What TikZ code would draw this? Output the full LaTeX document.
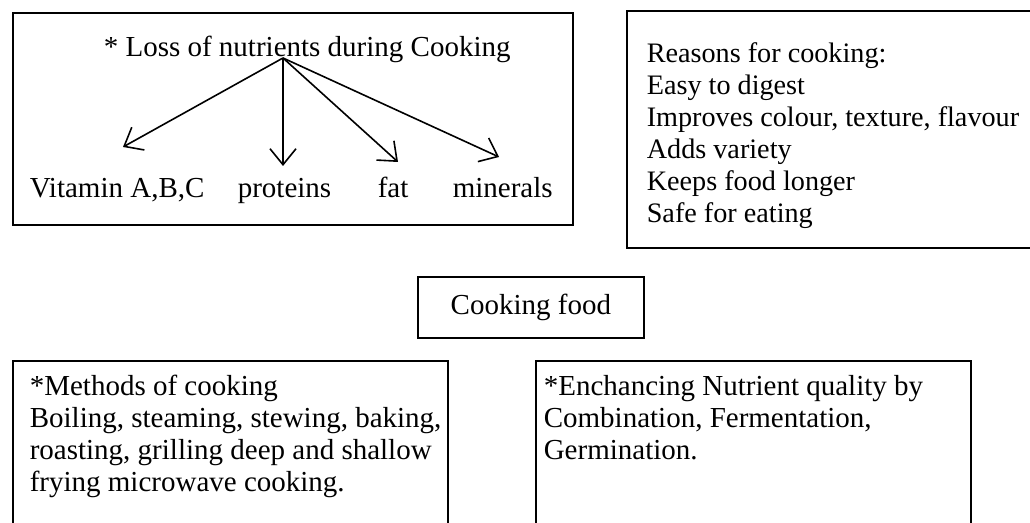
\documentclass[tikz,border=0pt]{standalone}
\usepackage{fontspec}
\setmainfont{Liberation Serif}
\usetikzlibrary{arrows.meta}

% several lines, baseline on the first one
\newcommand{\firstbase}[1]{\begin{tabular}[t]{@{}l@{}}#1\end{tabular}}

\begin{document}
\begin{tikzpicture}[
            x = 0.5pt, y = -0.5pt, % one unit per pixel, y grows downwards
            > = {Straight Barb[length=8pt, width=13pt]}, % open arrow head
            line width = 0.8pt, % arrow lines
            font = \fontsize{14.5}{16}\selectfont
        ]

        \tikzstyle{frame}=[
            draw = black,
            line width = 0.9pt,
            inner sep = 0pt,
            anchor = north west
        ]
        \tikzstyle{txt}=[
            inner sep = 0pt,
            anchor = base west
        ]

        \useasboundingbox (0,0) rectangle (1030,523);
        \clip (0,0) rectangle (1030,523);

        % boxes
        \node (lossBox) [frame, minimum width=280pt, minimum height=106pt] at (12,12) {};
        \node (reasonBox) [frame, minimum width=227pt, minimum height=118.5pt] at (626,10) {};
        \node (cookBox) [frame, minimum width=113pt, minimum height=30.5pt] at (417,276) {};
        \node (methodBox) [frame, minimum width=217.5pt, minimum height=100pt] at (12,360) {};
        \node (enhanceBox) [frame, minimum width=217.5pt, minimum height=100pt] at (535,360) {};

        % texts
        \node (loss) [txt] at (103,57) {* Loss of nutrients during Cooking};
        \node (vit) [txt] at (29,198) {Vitamin A,B,C};
        \node (prot) [txt] at (237,198) {proteins};
        \node (fat) [txt] at (377,198) {fat};
        \node (mins) [txt] at (452,198) {minerals};
        \node (reasons) [txt, font=\fontsize{14.1}{16}\selectfont] at (646,63) {\firstbase{Reasons for cooking:\\
            Easy to digest\\
            Improves colour, texture, flavour\\
            Adds variety\\
            Keeps food longer\\
            Safe for eating}};
        \node (cook) at (cookBox.center) {Cooking food};
        \node (methods) [txt] at (29,396) {\firstbase{*Methods of cooking\\
            Boiling, steaming, stewing, baking,\\
            roasting, grilling deep and shallow\\
            frying microwave cooking.}};
        \node (enhance) [txt] at (543,396) {\firstbase{*Enchancing Nutrient quality by\\
            Combination, Fermentation,\\
            Germination.}};

        % arrows out of the heading
        \coordinate (hub) at (283,58);
        \coordinate (vitTip) at (123,147);
        \coordinate (protTip) at (283,166);
        \coordinate (fatTip) at (398,162);
        \coordinate (minTip) at (499,157);

        \path[->] (hub) edge (vitTip);
        \path[->] (hub) edge (protTip);
        \path[->] (hub) edge (fatTip);
        \path[->] (hub) edge (minTip);
    \end{tikzpicture}
\end{document}
